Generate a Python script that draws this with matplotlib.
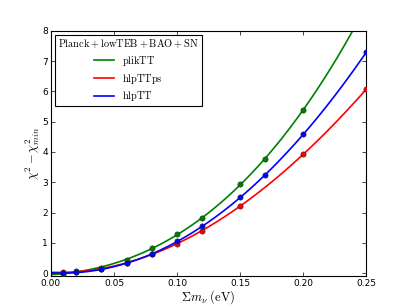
import matplotlib
matplotlib.use("Agg")
import matplotlib.pyplot as plt
import numpy as np

plt.rcParams['mathtext.fontset'] = 'cm'

# data
mnu_plik = [0.01, 0.02, 0.04, 0.06, 0.08, 0.10, 0.12, 0.15, 0.17, 0.20]
chi_plik = [-0.02, 0.07, 0.18, 0.45, 0.83, 1.28, 1.83, 2.93, 3.77, 5.40]

mnu_ps = [0.01, 0.02, 0.04, 0.06, 0.08, 0.10, 0.12, 0.15, 0.20, 0.25]
chi_ps = [0.03, 0.05, 0.15, 0.35, 0.62, 0.97, 1.41, 2.22, 3.92, 6.07]

mnu_hlp = [0.01, 0.02, 0.04, 0.06, 0.08, 0.10, 0.12, 0.15, 0.17, 0.20, 0.25]
chi_hlp = [0.00, 0.03, 0.13, 0.33, 0.63, 1.05, 1.55, 2.50, 3.25, 4.58, 7.29]

labels = ['plikTT', 'hlpTTps', 'hlpTT']
colors = ['green', 'red', 'blue']

fig = plt.figure(figsize=(4.07, 3.07), dpi=100)
ax = fig.add_axes([0.125, 0.1, 0.775, 0.8])

xx = np.linspace(0, 0.25, 200)
for xs, ys, lab, c in zip([mnu_plik, mnu_ps, mnu_hlp], [chi_plik, chi_ps, chi_hlp], labels, colors):
    p = np.polyfit(xs, ys, 3)
    ax.plot(xx, np.polyval(p, xx), color=c, lw=1.2, label=r'$\rm{%s}$' % lab)
    ax.plot(xs, ys, 'o', color=c, ms=3.8, mec='#113311' if c == 'green' else '#222222', mew=0.4, zorder=3)

ax.set_xlim(0, 0.25)
ax.set_ylim(-0.1, 8)
ax.set_xticks([0, 0.05, 0.10, 0.15, 0.20, 0.25])
ax.set_xticklabels(['0.00', '0.05', '0.10', '0.15', '0.20', '0.25'])
ax.set_yticks(range(0, 9))
ax.tick_params(direction='in', top=True, right=True, labelsize=6.5, length=3, width=0.5, pad=2)
for s in ax.spines.values():
    s.set_linewidth(0.8)

ax.set_xlabel(r'$\Sigma m_{\nu}\ \rm{(eV)}$', fontsize=9, labelpad=0)
ax.set_ylabel(r'$\chi^2-\chi^2_{min}$', fontsize=9, labelpad=0)

leg = ax.legend(loc='upper left', title=r'$\rm{Planck+lowTEB+BAO+SN}$',
                fontsize=7.4, fancybox=False, edgecolor='black', framealpha=1,
                borderaxespad=0.4, handlelength=2, handletextpad=0.8,
                labelspacing=0.35, borderpad=0.3)
leg.get_title().set_fontsize(7.4)
leg.get_frame().set_linewidth(0.8)

fig.savefig('out.png', dpi=100)
